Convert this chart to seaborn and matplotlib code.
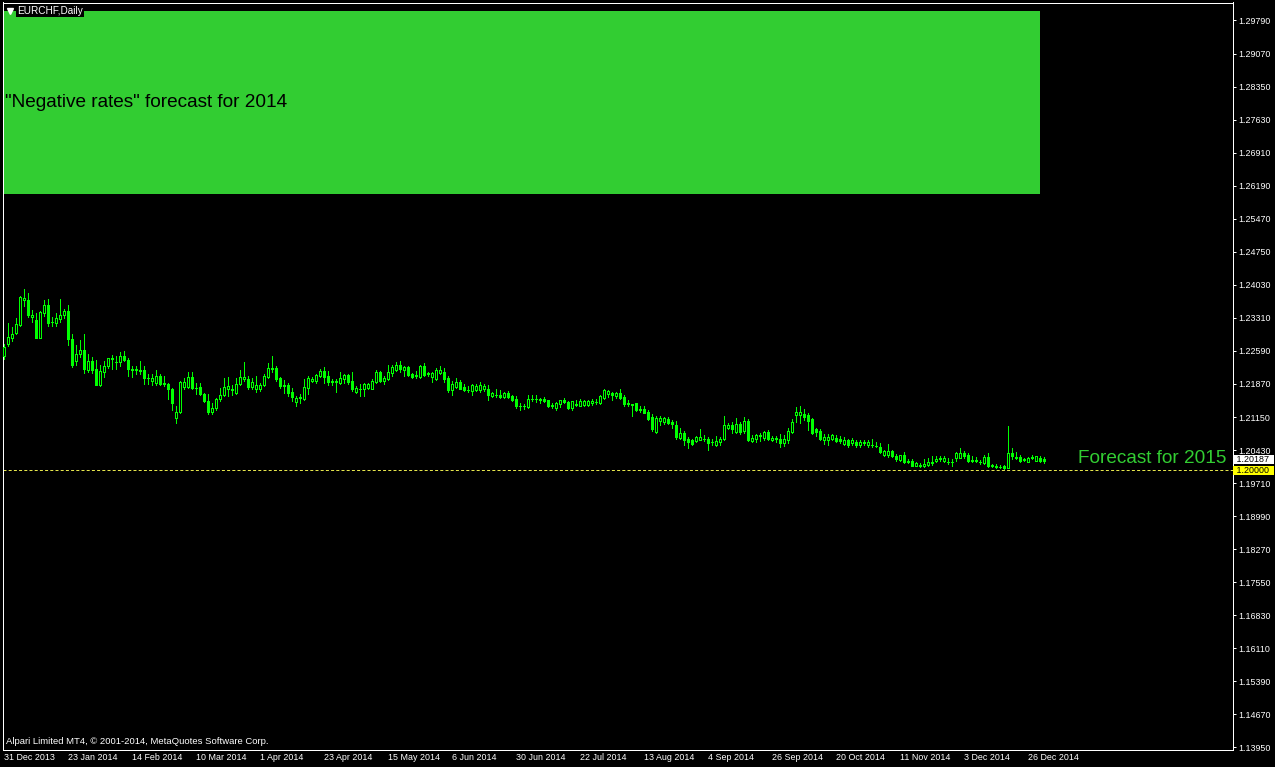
import numpy as np
import pandas as pd
import matplotlib
matplotlib.use("Agg")
import matplotlib.pyplot as plt
import matplotlib.transforms as mtransforms
from matplotlib.patches import Rectangle
from matplotlib.lines import Line2D
import seaborn as sns

# ---------------- data (EURCHF daily, 31 Dec 2013 .. 31 Dec 2014) ----------------
opens = [
    1.2248, 1.2274, 1.2288, 1.2298, 1.2315, 1.2369, 1.2370, 1.2333, 1.2326, 1.2288,
    1.2342, 1.2360, 1.2322, 1.2319, 1.2329, 1.2337, 1.2346, 1.2286, 1.2237, 1.2253,
    1.2262, 1.2217, 1.2237, 1.2219, 1.2184, 1.2213, 1.2227, 1.2243, 1.2235, 1.2235,
    1.2249, 1.2240, 1.2219, 1.2218, 1.2218, 1.2217, 1.2201, 1.2193, 1.2190, 1.2205,
    1.2189, 1.2188, 1.2175, 1.2113, 1.2126, 1.2181, 1.2181, 1.2202, 1.2179, 1.2180,
    1.2166, 1.2151, 1.2126, 1.2135, 1.2155, 1.2163, 1.2175, 1.2176, 1.2168, 1.2187,
    1.2197, 1.2197, 1.2181, 1.2176, 1.2176, 1.2184, 1.2203, 1.2221, 1.2221, 1.2200,
    1.2184, 1.2184, 1.2169, 1.2147, 1.2158, 1.2155, 1.2179, 1.2193, 1.2193, 1.2204,
    1.2215, 1.2204, 1.2194, 1.2193, 1.2190, 1.2198, 1.2206, 1.2193, 1.2169, 1.2177,
    1.2175, 1.2179, 1.2177, 1.2191, 1.2213, 1.2193, 1.2198, 1.2211, 1.2217, 1.2229,
    1.2217, 1.2224, 1.2208, 1.2206, 1.2203, 1.2226, 1.2210, 1.2202, 1.2197, 1.2211,
    1.2213, 1.2200, 1.2173, 1.2180, 1.2192, 1.2180, 1.2174, 1.2171, 1.2174, 1.2173,
    1.2175, 1.2176, 1.2161, 1.2163, 1.2164, 1.2158, 1.2168, 1.2161, 1.2155, 1.2139,
    1.2139, 1.2137, 1.2155, 1.2155, 1.2154, 1.2155, 1.2152, 1.2141, 1.2134, 1.2144,
    1.2153, 1.2148, 1.2135, 1.2143, 1.2140, 1.2142, 1.2142, 1.2146, 1.2148, 1.2145,
    1.2157, 1.2166, 1.2168, 1.2161, 1.2168, 1.2159, 1.2145, 1.2143, 1.2145, 1.2132,
    1.2133, 1.2126, 1.2115, 1.2082, 1.2106, 1.2105, 1.2111, 1.2105, 1.2097, 1.2070,
    1.2081, 1.2068, 1.2065, 1.2062, 1.2066, 1.2068, 1.2068, 1.2061, 1.2055, 1.2061,
    1.2068, 1.2092, 1.2097, 1.2083, 1.2099, 1.2084, 1.2106, 1.2062, 1.2068, 1.2076,
    1.2070, 1.2082, 1.2064, 1.2069, 1.2068, 1.2059, 1.2065, 1.2082, 1.2119, 1.2119,
    1.2121, 1.2119, 1.2111, 1.2088, 1.2084, 1.2065, 1.2065, 1.2068, 1.2070, 1.2068,
    1.2057, 1.2065, 1.2059, 1.2060, 1.2053, 1.2060, 1.2053, 1.2055, 1.2052, 1.2049,
    1.2032, 1.2032, 1.2041, 1.2030, 1.2022, 1.2032, 1.2020, 1.2019, 1.2009, 1.2011,
    1.2008, 1.2010, 1.2016, 1.2019, 1.2023, 1.2019, 1.2018, 1.2018, 1.2026, 1.2026,
    1.2036, 1.2032, 1.2022, 1.2022, 1.2018, 1.2015, 1.2028, 1.2010, 1.2009, 1.2007,
    1.2008, 1.2004, 1.2036, 1.2027, 1.2028, 1.2023, 1.2018, 1.2027, 1.2020, 1.2026, 1.2024,
]
highs = [
    1.2275, 1.2320, 1.2311, 1.2330, 1.2378, 1.2393, 1.2386, 1.2348, 1.2341, 1.2346,
    1.2370, 1.2373, 1.2333, 1.2341, 1.2373, 1.2351, 1.2359, 1.2297, 1.2271, 1.2282,
    1.2295, 1.2253, 1.2245, 1.2240, 1.2229, 1.2237, 1.2244, 1.2250, 1.2249, 1.2257,
    1.2258, 1.2244, 1.2226, 1.2226, 1.2237, 1.2226, 1.2208, 1.2209, 1.2217, 1.2208,
    1.2204, 1.2190, 1.2179, 1.2139, 1.2193, 1.2199, 1.2213, 1.2213, 1.2190, 1.2190,
    1.2168, 1.2166, 1.2145, 1.2157, 1.2179, 1.2199, 1.2202, 1.2184, 1.2199, 1.2217,
    1.2235, 1.2204, 1.2200, 1.2204, 1.2190, 1.2209, 1.2232, 1.2248, 1.2227, 1.2203,
    1.2195, 1.2190, 1.2179, 1.2161, 1.2166, 1.2198, 1.2204, 1.2202, 1.2208, 1.2219,
    1.2224, 1.2215, 1.2198, 1.2197, 1.2213, 1.2209, 1.2208, 1.2213, 1.2182, 1.2186,
    1.2190, 1.2190, 1.2197, 1.2217, 1.2215, 1.2204, 1.2228, 1.2228, 1.2235, 1.2237,
    1.2226, 1.2226, 1.2210, 1.2215, 1.2228, 1.2232, 1.2213, 1.2213, 1.2222, 1.2226,
    1.2222, 1.2205, 1.2193, 1.2200, 1.2195, 1.2187, 1.2182, 1.2187, 1.2188, 1.2191,
    1.2187, 1.2184, 1.2169, 1.2176, 1.2174, 1.2169, 1.2171, 1.2164, 1.2161, 1.2146,
    1.2144, 1.2164, 1.2162, 1.2162, 1.2157, 1.2158, 1.2153, 1.2146, 1.2147, 1.2153,
    1.2157, 1.2150, 1.2151, 1.2153, 1.2155, 1.2153, 1.2153, 1.2155, 1.2155, 1.2163,
    1.2176, 1.2174, 1.2169, 1.2170, 1.2176, 1.2162, 1.2153, 1.2144, 1.2146, 1.2140,
    1.2139, 1.2131, 1.2121, 1.2117, 1.2117, 1.2115, 1.2115, 1.2108, 1.2106, 1.2092,
    1.2084, 1.2072, 1.2068, 1.2073, 1.2089, 1.2075, 1.2071, 1.2068, 1.2073, 1.2071,
    1.2117, 1.2102, 1.2104, 1.2113, 1.2105, 1.2115, 1.2110, 1.2075, 1.2079, 1.2081,
    1.2084, 1.2086, 1.2073, 1.2073, 1.2079, 1.2075, 1.2092, 1.2110, 1.2137, 1.2139,
    1.2133, 1.2124, 1.2113, 1.2092, 1.2089, 1.2078, 1.2077, 1.2078, 1.2075, 1.2073,
    1.2071, 1.2068, 1.2070, 1.2066, 1.2064, 1.2066, 1.2065, 1.2068, 1.2061, 1.2059,
    1.2044, 1.2057, 1.2044, 1.2035, 1.2033, 1.2039, 1.2023, 1.2023, 1.2018, 1.2015,
    1.2024, 1.2026, 1.2031, 1.2030, 1.2031, 1.2030, 1.2025, 1.2023, 1.2039, 1.2048,
    1.2041, 1.2037, 1.2030, 1.2028, 1.2021, 1.2033, 1.2036, 1.2013, 1.2013, 1.2010,
    1.2010, 1.2095, 1.2048, 1.2039, 1.2033, 1.2026, 1.2028, 1.2033, 1.2031, 1.2030, 1.2028,
]
lows = [
    1.2242, 1.2269, 1.2280, 1.2295, 1.2313, 1.2357, 1.2333, 1.2322, 1.2288, 1.2288,
    1.2336, 1.2313, 1.2314, 1.2313, 1.2322, 1.2331, 1.2273, 1.2224, 1.2229, 1.2246,
    1.2211, 1.2213, 1.2211, 1.2184, 1.2182, 1.2203, 1.2222, 1.2219, 1.2219, 1.2226,
    1.2237, 1.2204, 1.2203, 1.2208, 1.2208, 1.2186, 1.2186, 1.2184, 1.2184, 1.2184,
    1.2182, 1.2155, 1.2131, 1.2102, 1.2124, 1.2175, 1.2179, 1.2176, 1.2166, 1.2162,
    1.2147, 1.2122, 1.2121, 1.2130, 1.2150, 1.2161, 1.2161, 1.2164, 1.2166, 1.2184,
    1.2193, 1.2175, 1.2175, 1.2169, 1.2171, 1.2182, 1.2200, 1.2213, 1.2193, 1.2179,
    1.2168, 1.2161, 1.2150, 1.2139, 1.2146, 1.2153, 1.2166, 1.2191, 1.2190, 1.2202,
    1.2190, 1.2184, 1.2184, 1.2169, 1.2186, 1.2190, 1.2186, 1.2171, 1.2168, 1.2161,
    1.2161, 1.2175, 1.2175, 1.2190, 1.2191, 1.2188, 1.2195, 1.2205, 1.2215, 1.2213,
    1.2204, 1.2204, 1.2200, 1.2200, 1.2200, 1.2204, 1.2204, 1.2191, 1.2195, 1.2208,
    1.2191, 1.2170, 1.2163, 1.2179, 1.2175, 1.2171, 1.2169, 1.2163, 1.2171, 1.2170,
    1.2171, 1.2152, 1.2158, 1.2159, 1.2157, 1.2157, 1.2157, 1.2150, 1.2135, 1.2131,
    1.2133, 1.2135, 1.2150, 1.2147, 1.2146, 1.2147, 1.2137, 1.2135, 1.2131, 1.2137,
    1.2146, 1.2133, 1.2131, 1.2139, 1.2139, 1.2140, 1.2140, 1.2142, 1.2144, 1.2144,
    1.2155, 1.2159, 1.2152, 1.2157, 1.2155, 1.2139, 1.2139, 1.2117, 1.2128, 1.2126,
    1.2123, 1.2108, 1.2084, 1.2081, 1.2097, 1.2100, 1.2100, 1.2092, 1.2068, 1.2068,
    1.2055, 1.2048, 1.2055, 1.2060, 1.2065, 1.2062, 1.2044, 1.2053, 1.2052, 1.2055,
    1.2065, 1.2089, 1.2081, 1.2081, 1.2079, 1.2081, 1.2062, 1.2061, 1.2060, 1.2062,
    1.2066, 1.2066, 1.2062, 1.2060, 1.2050, 1.2052, 1.2059, 1.2081, 1.2104, 1.2102,
    1.2108, 1.2086, 1.2078, 1.2073, 1.2066, 1.2057, 1.2054, 1.2064, 1.2060, 1.2059,
    1.2055, 1.2050, 1.2055, 1.2049, 1.2050, 1.2053, 1.2050, 1.2049, 1.2049, 1.2037,
    1.2030, 1.2028, 1.2028, 1.2019, 1.2019, 1.2015, 1.2014, 1.2008, 1.2008, 1.2006,
    1.2006, 1.2008, 1.2010, 1.2017, 1.2020, 1.2017, 1.2013, 1.2009, 1.2020, 1.2025,
    1.2026, 1.2017, 1.2017, 1.2018, 1.2013, 1.2013, 1.2007, 1.2006, 1.2004, 1.2003,
    1.2001, 1.2003, 1.2023, 1.2023, 1.2018, 1.2019, 1.2017, 1.2023, 1.2019, 1.2018, 1.2015,
]
closes = [
    1.2267, 1.2289, 1.2295, 1.2317, 1.2376, 1.2375, 1.2338, 1.2338, 1.2288, 1.2343,
    1.2360, 1.2320, 1.2321, 1.2330, 1.2338, 1.2346, 1.2285, 1.2228, 1.2253, 1.2262,
    1.2219, 1.2237, 1.2217, 1.2184, 1.2215, 1.2227, 1.2243, 1.2241, 1.2234, 1.2249,
    1.2240, 1.2219, 1.2218, 1.2219, 1.2216, 1.2200, 1.2200, 1.2200, 1.2205, 1.2188,
    1.2187, 1.2175, 1.2145, 1.2127, 1.2192, 1.2192, 1.2202, 1.2179, 1.2178, 1.2166,
    1.2150, 1.2126, 1.2134, 1.2155, 1.2164, 1.2181, 1.2182, 1.2174, 1.2188, 1.2202,
    1.2202, 1.2181, 1.2192, 1.2184, 1.2184, 1.2204, 1.2221, 1.2220, 1.2198, 1.2182,
    1.2183, 1.2168, 1.2159, 1.2157, 1.2156, 1.2180, 1.2199, 1.2198, 1.2206, 1.2215,
    1.2203, 1.2192, 1.2192, 1.2192, 1.2200, 1.2206, 1.2191, 1.2175, 1.2179, 1.2176,
    1.2187, 1.2186, 1.2193, 1.2213, 1.2193, 1.2200, 1.2213, 1.2224, 1.2229, 1.2219,
    1.2224, 1.2206, 1.2203, 1.2205, 1.2226, 1.2206, 1.2208, 1.2210, 1.2217, 1.2217,
    1.2197, 1.2173, 1.2186, 1.2192, 1.2176, 1.2174, 1.2173, 1.2184, 1.2182, 1.2184,
    1.2182, 1.2162, 1.2168, 1.2162, 1.2159, 1.2168, 1.2158, 1.2152, 1.2139, 1.2138,
    1.2138, 1.2155, 1.2154, 1.2154, 1.2152, 1.2150, 1.2139, 1.2139, 1.2146, 1.2152,
    1.2147, 1.2134, 1.2150, 1.2142, 1.2151, 1.2150, 1.2150, 1.2151, 1.2147, 1.2161,
    1.2174, 1.2171, 1.2163, 1.2168, 1.2157, 1.2144, 1.2143, 1.2142, 1.2130, 1.2131,
    1.2124, 1.2111, 1.2089, 1.2113, 1.2113, 1.2112, 1.2102, 1.2099, 1.2071, 1.2081,
    1.2066, 1.2061, 1.2057, 1.2071, 1.2071, 1.2067, 1.2059, 1.2060, 1.2062, 1.2068,
    1.2097, 1.2097, 1.2090, 1.2099, 1.2083, 1.2106, 1.2064, 1.2070, 1.2076, 1.2074,
    1.2082, 1.2068, 1.2070, 1.2068, 1.2059, 1.2068, 1.2084, 1.2104, 1.2126, 1.2126,
    1.2115, 1.2106, 1.2081, 1.2083, 1.2068, 1.2072, 1.2072, 1.2076, 1.2062, 1.2062,
    1.2066, 1.2055, 1.2065, 1.2053, 1.2060, 1.2058, 1.2060, 1.2053, 1.2051, 1.2039,
    1.2041, 1.2041, 1.2030, 1.2023, 1.2032, 1.2018, 1.2018, 1.2009, 1.2015, 1.2009,
    1.2013, 1.2017, 1.2015, 1.2024, 1.2026, 1.2026, 1.2017, 1.2017, 1.2037, 1.2037,
    1.2031, 1.2019, 1.2020, 1.2020, 1.2017, 1.2028, 1.2008, 1.2009, 1.2007, 1.2006,
    1.2003, 1.2036, 1.2031, 1.2025, 1.2019, 1.2022, 1.2026, 1.2025, 1.2030, 1.2019, 1.20187,
]

date_labels = ["31 Dec 2013", "23 Jan 2014", "14 Feb 2014", "10 Mar 2014", "1 Apr 2014",
               "23 Apr 2014", "15 May 2014", "6 Jun 2014", "30 Jun 2014", "22 Jul 2014",
               "13 Aug 2014", "4 Sep 2014", "26 Sep 2014", "20 Oct 2014", "11 Nov 2014",
               "3 Dec 2014", "26 Dec 2014"]
date_bar_index = [0, 16, 32, 48, 64, 80, 96, 112, 128, 144, 160, 176, 192, 208, 224, 240, 256]

price_ticks = [1.29790, 1.29070, 1.28350, 1.27630, 1.26910, 1.26190, 1.25470, 1.24750,
               1.24030, 1.23310, 1.22590, 1.21870, 1.21150, 1.20430, 1.19710, 1.18990,
               1.18270, 1.17550, 1.16830, 1.16110, 1.15390, 1.14670, 1.13950]

current_price = 1.20187
level_2015 = 1.20000
zone_2014_low, zone_2014_high = 1.26, 1.30
zone_2014_first_bar, zone_2014_last_bar = 0, 259

title_text = "EURCHF,Daily"
zone_text = "\"Negative rates\" forecast for 2014"
level_text = "Forecast for 2015"
copyright_text = "Alpari Limited MT4, \u00a9 2001-2014, MetaQuotes Software Corp."

# ---------------- style ----------------
sns.set_theme(style="dark", rc={"axes.facecolor": "black", "figure.facecolor": "black",
                                "axes.grid": False})
plt.rcParams["font.family"] = ["Liberation Sans", "DejaVu Sans"]

W, H = 1275, 767
fig = plt.figure(figsize=(W / 100, H / 100), dpi=100, facecolor="black")
ax = fig.add_axes([2.5 / W, (H - 749.5) / H, 1230 / W, 747 / H])
ax.set_facecolor("black")

LIME = "#00FF00"
ZONE = "#32CD32"

n = len(closes)
idx = np.arange(n)
o = np.array(opens)
c = np.array(closes)
hi = np.array(highs)
lo = np.array(lows)

# wicks via seaborn (one vertical segment per bar)
wick_df = pd.DataFrame({
    "bar": np.repeat(idx, 2),
    "price": np.column_stack([lo, hi]).ravel(),
})
wick_df["x"] = wick_df["bar"].astype(float)
sns.lineplot(data=wick_df, x="x", y="price", units="bar", estimator=None, sort=False,
             color=LIME, linewidth=0.72, ax=ax, legend=False, zorder=3)
for ln in ax.lines:
    ln.set_antialiased(False)

# bodies
bull = c >= o
ax.bar(idx, np.abs(c - o), bottom=np.minimum(o, c), width=0.5,
       color=np.where(bull, "black", LIME).tolist(), edgecolor=LIME,
       linewidth=0.72, zorder=4, antialiased=False)

# 2014 "negative rates" zone
ax.add_patch(Rectangle((zone_2014_first_bar, zone_2014_low),
                       zone_2014_last_bar - zone_2014_first_bar,
                       zone_2014_high - zone_2014_low,
                       facecolor=ZONE, edgecolor="none", zorder=1))
ax.text(0.375, 1.28010, zone_text, ha="left", va="center", fontsize=13.7,
        color="black", zorder=5)

# 2015 level
ax.axhline(level_2015, color="#E6E64C", linestyle=(0, (3, 2.2)), linewidth=0.72, zorder=2)
ax.text(305.6, 1.20240, level_text, ha="right", va="center", fontsize=13.7,
        color=ZONE, zorder=5)

# axes limits (MT4-like fixed scale)
ax.set_xlim(-0.25, 307.25)
ax.set_ylim(1.13906, 1.30182)

# right price scale
ax.yaxis.tick_right()
ax.set_yticks(price_ticks)
ax.set_yticklabels([f"{v:.5f}" for v in price_ticks])
ax.tick_params(axis="y", colors="white", labelcolor="white", length=2.2, width=0.72,
               pad=2.0, labelsize=6.4, direction="out", left=False, right=True)

# bottom date scale
ax.set_xticks(date_bar_index)
ax.set_xticklabels(date_labels, ha="left")
ax.tick_params(axis="x", colors="white", labelcolor="white", length=3.0, width=0.72,
               pad=-0.5, labelsize=6.4, direction="out")
shift = mtransforms.ScaledTranslation(1.0 / 100, 0, fig.dpi_scale_trans)
for lab in ax.get_xticklabels():
    lab.set_transform(lab.get_transform() + shift)

for sp in ax.spines.values():
    sp.set_color("white")
    sp.set_linewidth(0.72)
    sp.set_visible(True)
ax.set_xlabel("")
ax.set_ylabel("")
ax.grid(False)

# price labels on the scale
ax.annotate(f" {current_price:.5f}  ", xy=(1, current_price),
            xycoords=("axes fraction", "data"), xytext=(0.9, 1.4),
            textcoords="offset points", ha="left", va="center", fontsize=6.4,
            color="black", annotation_clip=False, zorder=6,
            bbox=dict(boxstyle="square,pad=0.03", fc="white", ec="none"))
ax.annotate(f" {level_2015:.5f}  ", xy=(1, level_2015),
            xycoords=("axes fraction", "data"), xytext=(0.9, -0.6),
            textcoords="offset points", ha="left", va="center", fontsize=6.4,
            color="black", annotation_clip=False, zorder=6,
            bbox=dict(boxstyle="square,pad=0.03", fc="#FFFF00", ec="none"))

# title and copyright
fig.add_artist(Line2D([9.5 / W], [1 - 11 / H], marker="v", markersize=4.2,
                      color="white", transform=fig.transFigure, linestyle="none"))
fig.text(17 / W, 1 - 10.5 / H, title_text, ha="left", va="center", fontsize=7.2,
         color="white", bbox=dict(boxstyle="square,pad=0.12", fc="black", ec="none"))
fig.text(6 / W, 1 - 741 / H, copyright_text, ha="left", va="center", fontsize=6.8,
         color="white")

fig.savefig("out.png", dpi=100, facecolor="black")
